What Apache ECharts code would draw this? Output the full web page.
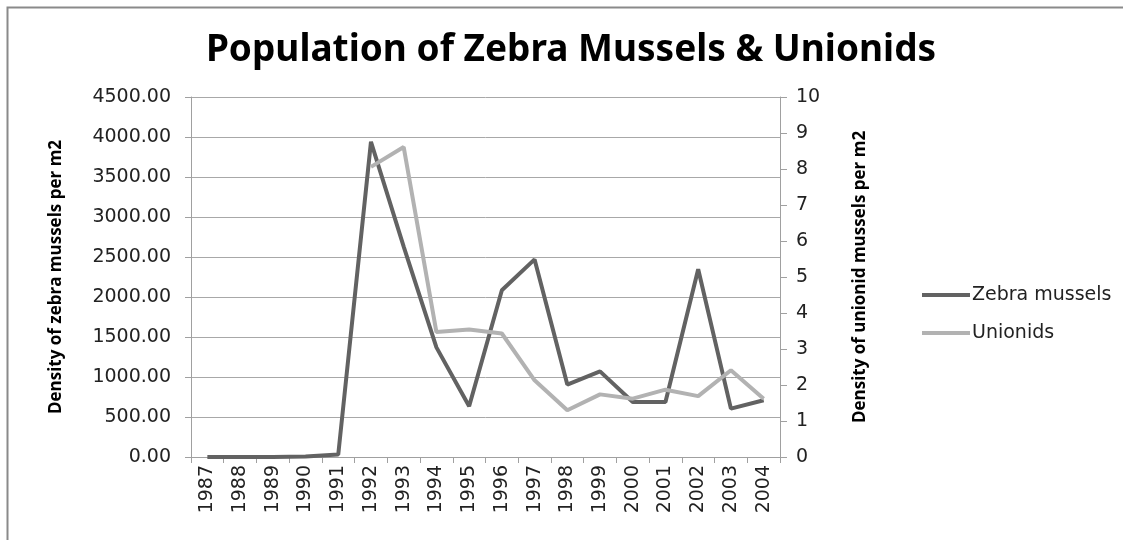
<!DOCTYPE html>
<html>
<head>
<meta charset="utf-8">
<script src="https://cdn.jsdelivr.net/npm/echarts@6/dist/echarts.min.js"></script>
<style>
html,body{margin:0;padding:0;background:#fff;}
#chart{width:1123px;height:540px;}
</style>
</head>
<body>
<div id="chart"></div>
<script>
const years = ['1987','1988','1989','1990','1991','1992','1993','1994','1995','1996','1997','1998','1999','2000','2001','2002','2003','2004'];
const zebraMussels = [0, 0, 0, 5, 30, 3940, 2630, 1370, 635, 2085, 2470, 905, 1070, 688, 688, 2346, 605, 709];
const unionids = [null, null, null, null, null, 8.06, 8.61, 3.47, 3.54, 3.43, 2.13, 1.30, 1.74, 1.62, 1.87, 1.69, 2.41, 1.62];
const titleText = 'Population of Zebra Mussels & Unionids';
const leftAxisName = 'Density of zebra mussels per m2';
const rightAxisName = 'Density of unionid mussels per m2';

const chart = echarts.init(document.getElementById('chart'));
const labelFont = {fontFamily: 'DejaVu Sans', fontSize: 19, color: '#222'};
chart.setOption({
  animation: false,
  backgroundColor: '#fff',
  graphic: [{
    type: 'rect', left: 5, top: 5, silent: true,
    shape: {width: 1200, height: 600},
    style: {fill: 'none', stroke: '#8a8a8a', lineWidth: 2}
  }],
  title: {
    text: titleText, left: 566, top: 27, textAlign: 'center',
    textStyle: {fontFamily: 'Noto Sans', fontWeight: 'bold', fontSize: 37, color: '#000'}
  },
  legend: {
    orient: 'vertical', left: 917, top: 280,
    icon: 'rect', itemWidth: 48, itemHeight: 4, itemGap: 18,
    textStyle: {fontFamily: 'DejaVu Sans', fontSize: 19, color: '#222', lineHeight: 20, padding: [0,0,0,-3]},
    data: ['Zebra mussels', 'Unionids']
  },
  grid: {left: 191, right: 343, top: 97, bottom: 83},
  xAxis: {
    type: 'category', data: years, boundaryGap: true,
    axisLine: {lineStyle: {color: '#a0a0a0', width: 1}},
    axisTick: {show: true, length: 6, lineStyle: {color: '#a0a0a0'}},
    axisLabel: Object.assign({rotate: 90, margin: 8, interval: 0}, labelFont)
  },
  yAxis: [{
    type: 'value', min: 0, max: 4500, interval: 500, position: 'left',
    name: leftAxisName, nameLocation: 'middle', nameGap: 126, nameRotate: 90,
    nameTextStyle: {fontFamily: 'Open Sans', fontWeight: 'bold', fontSize: 17, color: '#000'},
    axisLine: {show: true, lineStyle: {color: '#a0a0a0'}},
    axisTick: {show: true, length: 6, lineStyle: {color: '#a0a0a0'}},
    axisLabel: Object.assign({margin: 20, formatter: v => v.toFixed(2)}, labelFont),
    splitLine: {show: true, lineStyle: {color: '#a8a8a8', width: 1}}
  }, {
    type: 'value', min: 0, max: 10, interval: 1, position: 'right',
    name: rightAxisName, nameLocation: 'middle', nameGap: 72, nameRotate: 90,
    nameTextStyle: {fontFamily: 'Open Sans', fontWeight: 'bold', fontSize: 17, color: '#000'},
    axisLine: {show: true, lineStyle: {color: '#a0a0a0'}},
    axisTick: {show: true, length: 7, lineStyle: {color: '#a0a0a0'}},
    axisLabel: Object.assign({margin: 16}, labelFont),
    splitLine: {show: false}
  }],
  series: [{
    name: 'Zebra mussels', type: 'line', yAxisIndex: 0, data: zebraMussels,
    symbol: 'none', lineStyle: {color: '#626262', width: 4}, itemStyle: {color: '#626262'}
  }, {
    name: 'Unionids', type: 'line', yAxisIndex: 1, data: unionids,
    symbol: 'none', lineStyle: {color: '#b2b2b2', width: 4}, itemStyle: {color: '#b2b2b2'}
  }]
});
</script>
</body>
</html>
